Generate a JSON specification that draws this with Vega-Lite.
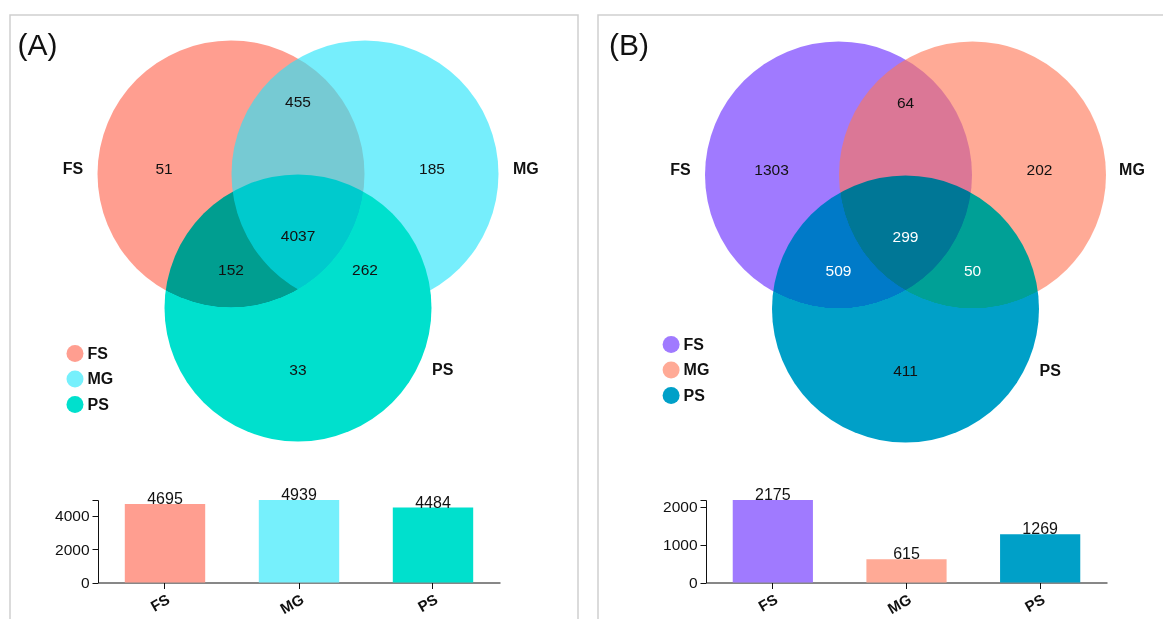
{
  "$schema": "https://vega.github.io/schema/vega-lite/v6.json",
  "padding": {"left": 9, "top": 14, "right": 0, "bottom": 0},
  "spacing": 18,
  "background": "white",
  "config": {
    "view": {"stroke": "#cfcfcf", "strokeWidth": 1.5},
    "font": "Liberation Sans",
    "axis": {"labelFont": "Liberation Sans", "labelColor": "#111", "domainColor": "#111", "tickColor": "#111", "grid": false, "title": null},
    "legend": {"labelFont": "Liberation Sans"}
  },
  "resolve": {"scale": {"color": "independent"}, "legend": {"color": "independent"}},
  "hconcat": [
    {
      "width": 568,
      "height": 606,
      "resolve": {"scale": {"x": "independent", "y": "independent"}, "axis": {"x": "independent", "y": "independent"}},
      "layer": [
        {
          "layer": [
            {
              "data": {"values": [
                {"set": "FS", "x": -0.5, "y": 0},
                {"set": "MG", "x": 0.5, "y": 0},
                {"set": "PS", "x": 0, "y": -1}
              ]},
              "encoding": {
                "x": {"field": "x", "type": "quantitative", "scale": {"domain": [-2.1493, 2.0896], "nice": false, "zero": false}, "axis": null},
                "y": {"field": "y", "type": "quantitative", "scale": {"domain": [-3.3358, 1.1866], "nice": false, "zero": false}, "axis": null}
              },
              "layer": [
                {"transform": [{"filter": "datum.set == 'FS'"}], "mark": {"type": "point", "shape": "circle", "filled": true, "size": 71289, "opacity": 1, "strokeWidth": 0, "color": "#FF9E90"}},
                {"transform": [{"filter": "datum.set == 'MG'"}], "mark": {"type": "point", "shape": "circle", "filled": true, "size": 71289, "opacity": 0.63, "strokeWidth": 0, "color": "#26E4FB"}},
                {"transform": [{"filter": "datum.set == 'PS'"}], "mark": {"type": "point", "shape": "circle", "filled": true, "size": 71289, "opacity": 1, "strokeWidth": 0, "color": "#00E0CD", "blend": "darken"}}
              ]
            },
            {
              "data": {"values": [
                {"region": "FS", "count": 51, "x": -1.0, "y": 0.04},
                {"region": "MG", "count": 185, "x": 1.0, "y": 0.04},
                {"region": "FS∩MG", "count": 455, "x": 0, "y": 0.54},
                {"region": "FS∩MG∩PS", "count": 4037, "x": 0, "y": -0.465},
                {"region": "FS∩PS", "count": 152, "x": -0.5, "y": -0.715},
                {"region": "MG∩PS", "count": 262, "x": 0.5, "y": -0.715},
                {"region": "PS", "count": 33, "x": 0, "y": -1.465}
              ]},
              "mark": {"type": "text", "fontSize": 15.5, "align": "center", "baseline": "middle", "color": "#111"},
              "encoding": {
                "x": {"field": "x", "type": "quantitative", "scale": {"domain": [-2.1493, 2.0896], "nice": false, "zero": false}, "axis": null},
                "y": {"field": "y", "type": "quantitative", "scale": {"domain": [-3.3358, 1.1866], "nice": false, "zero": false}, "axis": null},
                "text": {"field": "count", "type": "quantitative", "format": "d"}
              }
            },
            {
              "data": {"values": [
                {"name": "FS", "x": -1.68, "y": 0.04},
                {"name": "MG", "x": 1.70, "y": 0.04},
                {"name": "PS", "x": 1.08, "y": -1.465}
              ]},
              "mark": {"type": "text", "fontSize": 16, "fontWeight": "bold", "align": "center", "baseline": "middle", "color": "#111"},
              "encoding": {
                "x": {"field": "x", "type": "quantitative", "scale": {"domain": [-2.1493, 2.0896], "nice": false, "zero": false}, "axis": null},
                "y": {"field": "y", "type": "quantitative", "scale": {"domain": [-3.3358, 1.1866], "nice": false, "zero": false}, "axis": null},
                "text": {"field": "name", "type": "nominal"}
              }
            },
            {
              "data": {"values": [{"panel": "(A)"}]},
              "mark": {"type": "text", "fontSize": 30, "align": "left", "baseline": "alphabetic", "color": "#111"},
              "encoding": {
                "x": {"datum": -2.093, "type": "quantitative", "scale": {"domain": [-2.1493, 2.0896], "nice": false, "zero": false}, "axis": null},
                "y": {"datum": 0.886, "type": "quantitative", "scale": {"domain": [-3.3358, 1.1866], "nice": false, "zero": false}, "axis": null},
                "text": {"field": "panel", "type": "nominal"}
              }
            }
          ]
        },
        {
          "data": {"values": [
            {"set": "FS", "total": 4695},
            {"set": "MG", "total": 4939},
            {"set": "PS", "total": 4484}
          ]},
          "encoding": {
            "x": {"field": "set", "type": "nominal", "sort": null, "scale": {"range": [88, 490], "paddingInner": 0.4, "paddingOuter": 0.2},
              "axis": {"orient": "bottom", "offset": -38.5, "labelAngle": -30, "labelAlign": "right", "labelBaseline": "top", "labelFontSize": 15, "labelFontWeight": "bold", "tickSize": 6, "labelPadding": 3, "bandPosition": 0.5, "title": null}},
            "y": {"field": "total", "type": "quantitative", "scale": {"domain": [0, 4939], "range": [567.5, 485], "nice": false},
              "axis": {"orient": "left", "offset": -88, "values": [0, 2000, 4000, 4939], "format": "d", "labelExpr": "datum.value == 4939 ? '' : datum.label", "labelFontSize": 15.5, "tickSize": 6, "labelPadding": 3, "title": null}}
          },
          "layer": [
            {
              "mark": {"type": "bar", "opacity": 1},
              "encoding": {
                "color": {"field": "set", "type": "nominal", "scale": {"domain": ["FS", "MG", "PS"], "range": ["#FF9E90", "#76F0FC", "#00E0CD"]},
                  "legend": {"orient": "none", "legendX": 56.5, "legendY": 330, "title": null, "symbolType": "circle", "symbolSize": 289, "labelFontSize": 16, "labelFontWeight": "bold", "labelColor": "#111", "padding": 0, "rowPadding": 8.5, "labelOffset": 4, "symbolStrokeWidth": 0, "symbolOpacity": 1}}
              }
            },
            {
              "mark": {"type": "text", "baseline": "alphabetic", "fontSize": 16, "color": "#111"},
              "encoding": {"text": {"field": "total", "type": "quantitative", "format": "d"}}
            }
          ]
        }
      ]
    },
    {
      "width": 568,
      "height": 606,
      "resolve": {"scale": {"x": "independent", "y": "independent"}, "axis": {"x": "independent", "y": "independent"}},
      "layer": [
        {
          "layer": [
            {
              "data": {"values": [
                {"set": "FS", "x": -0.5, "y": 0},
                {"set": "MG", "x": 0.5, "y": 0},
                {"set": "PS", "x": 0, "y": -1}
              ]},
              "encoding": {
                "x": {"field": "x", "type": "quantitative", "scale": {"domain": [-2.2948, 1.944], "nice": false, "zero": false}, "axis": null},
                "y": {"field": "y", "type": "quantitative", "scale": {"domain": [-3.328, 1.194], "nice": false, "zero": false}, "axis": null}
              },
              "layer": [
                {"transform": [{"filter": "datum.set == 'FS'"}], "mark": {"type": "point", "shape": "circle", "filled": true, "size": 71289, "opacity": 1, "strokeWidth": 0, "color": "#A07AFF"}},
                {"transform": [{"filter": "datum.set == 'MG'"}], "mark": {"type": "point", "shape": "circle", "filled": true, "size": 71289, "opacity": 0.62, "strokeWidth": 0, "color": "#FF7655"}},
                {"transform": [{"filter": "datum.set == 'PS'"}], "mark": {"type": "point", "shape": "circle", "filled": true, "size": 71289, "opacity": 1, "strokeWidth": 0, "color": "#00A0C8", "blend": "darken"}}
              ]
            },
            {
              "data": {"values": [
                {"region": "FS", "count": 1303, "x": -1.0, "y": 0.04},
                {"region": "MG", "count": 202, "x": 1.0, "y": 0.04},
                {"region": "FS∩MG", "count": 64, "x": 0, "y": 0.54},
                {"region": "FS∩MG∩PS", "count": 299, "x": 0, "y": -0.465},
                {"region": "FS∩PS", "count": 509, "x": -0.5, "y": -0.715},
                {"region": "MG∩PS", "count": 50, "x": 0.5, "y": -0.715},
                {"region": "PS", "count": 411, "x": 0, "y": -1.465}
              ]},
              "mark": {"type": "text", "fontSize": 15.5, "align": "center", "baseline": "middle"},
              "encoding": {
                "x": {"field": "x", "type": "quantitative", "scale": {"domain": [-2.2948, 1.944], "nice": false, "zero": false}, "axis": null},
                "y": {"field": "y", "type": "quantitative", "scale": {"domain": [-3.328, 1.194], "nice": false, "zero": false}, "axis": null},
                "text": {"field": "count", "type": "quantitative", "format": "d"},
                "color": {"condition": {"test": "datum.region == 'FS∩MG∩PS' || datum.region == 'FS∩PS' || datum.region == 'MG∩PS'", "value": "#ffffff"}, "value": "#111111"}
              }
            },
            {
              "data": {"values": [
                {"name": "FS", "x": -1.68, "y": 0.04},
                {"name": "MG", "x": 1.69, "y": 0.04},
                {"name": "PS", "x": 1.08, "y": -1.465}
              ]},
              "mark": {"type": "text", "fontSize": 16, "fontWeight": "bold", "align": "center", "baseline": "middle", "color": "#111"},
              "encoding": {
                "x": {"field": "x", "type": "quantitative", "scale": {"domain": [-2.2948, 1.944], "nice": false, "zero": false}, "axis": null},
                "y": {"field": "y", "type": "quantitative", "scale": {"domain": [-3.328, 1.194], "nice": false, "zero": false}, "axis": null},
                "text": {"field": "name", "type": "nominal"}
              }
            },
            {
              "data": {"values": [{"panel": "(B)"}]},
              "mark": {"type": "text", "fontSize": 30, "align": "left", "baseline": "alphabetic", "color": "#111"},
              "encoding": {
                "x": {"datum": -2.213, "type": "quantitative", "scale": {"domain": [-2.2948, 1.944], "nice": false, "zero": false}, "axis": null},
                "y": {"datum": 0.896, "type": "quantitative", "scale": {"domain": [-3.328, 1.194], "nice": false, "zero": false}, "axis": null},
                "text": {"field": "panel", "type": "nominal"}
              }
            }
          ]
        },
        {
          "data": {"values": [
            {"set": "FS", "total": 2175},
            {"set": "MG", "total": 615},
            {"set": "PS", "total": 1269}
          ]},
          "encoding": {
            "x": {"field": "set", "type": "nominal", "sort": null, "scale": {"range": [108, 509], "paddingInner": 0.4, "paddingOuter": 0.2},
              "axis": {"orient": "bottom", "offset": -38.5, "labelAngle": -30, "labelAlign": "right", "labelBaseline": "top", "labelFontSize": 15, "labelFontWeight": "bold", "tickSize": 6, "labelPadding": 3, "bandPosition": 0.5, "title": null}},
            "y": {"field": "total", "type": "quantitative", "scale": {"domain": [0, 2175], "range": [567.5, 485], "nice": false},
              "axis": {"orient": "left", "offset": -108, "values": [0, 1000, 2000, 2175], "format": "d", "labelExpr": "datum.value == 2175 ? '' : datum.label", "labelFontSize": 15.5, "tickSize": 6, "labelPadding": 3, "title": null}}
          },
          "layer": [
            {
              "mark": {"type": "bar", "opacity": 1},
              "encoding": {
                "color": {"field": "set", "type": "nominal", "scale": {"domain": ["FS", "MG", "PS"], "range": ["#A07AFF", "#FFAA96", "#00A0C8"]},
                  "legend": {"orient": "none", "legendX": 64.6, "legendY": 321, "title": null, "symbolType": "circle", "symbolSize": 289, "labelFontSize": 16, "labelFontWeight": "bold", "labelColor": "#111", "padding": 0, "rowPadding": 8.5, "labelOffset": 4, "symbolStrokeWidth": 0, "symbolOpacity": 1}}
              }
            },
            {
              "mark": {"type": "text", "baseline": "alphabetic", "fontSize": 16, "color": "#111"},
              "encoding": {"text": {"field": "total", "type": "quantitative", "format": "d"}}
            }
          ]
        }
      ]
    }
  ]
}
